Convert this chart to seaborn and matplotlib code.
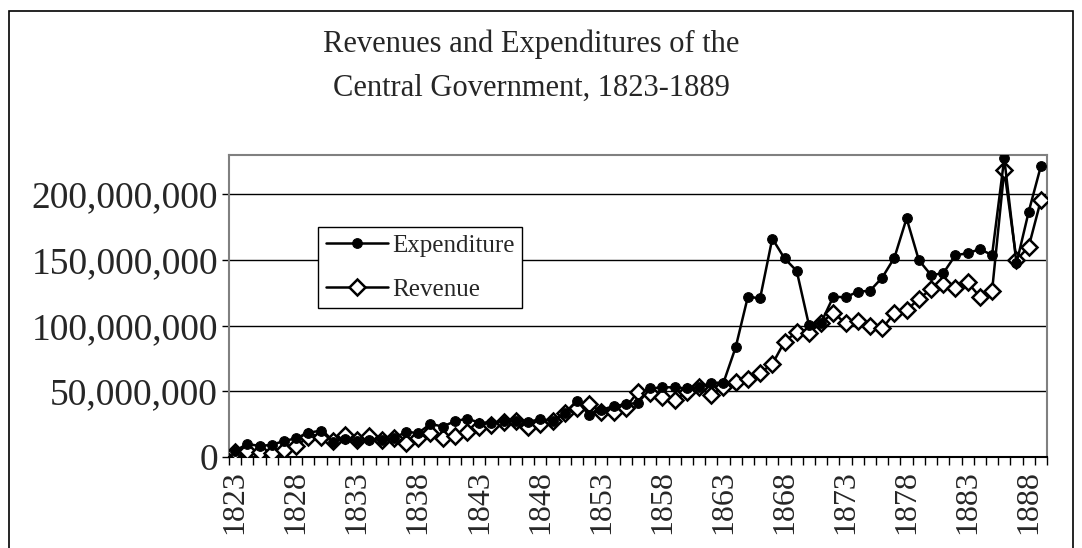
import numpy as np
import pandas as pd
import matplotlib
matplotlib.use("Agg")
import matplotlib.pyplot as plt
from matplotlib.patches import Rectangle
from matplotlib.ticker import FuncFormatter, FixedLocator
import seaborn as sns

years = list(range(1823, 1890))

expenditure = [
    4.5, 9.7, 8.2, 9.0, 12.0, 14.0, 18.3, 19.8, 11.4, 13.5,
    12.0, 13.0, 13.0, 14.0, 19.0, 18.0, 25.0, 23.0, 27.0, 29.0,
    26.0, 26.0, 27.0, 27.5, 26.7, 28.5, 27.5, 33.0, 42.7, 31.8,
    35.6, 38.6, 40.0, 41.0, 52.0, 52.9, 52.9, 52.0, 52.9, 56.4,
    56.4, 83.4, 122.0, 120.7, 166.3, 151.2, 141.6, 100.4, 102.2, 122.0,
    121.5, 125.8, 126.5, 136.5, 151.7, 181.7, 149.9, 138.5, 139.8, 153.7,
    155.0, 158.3, 153.7, 227.4, 147.4, 186.7, 221.6,
]
revenue = [
    3.4, 4.0, 3.8, 2.8, 5.0, 8.2, 15.0, 15.0, 12.0, 16.5,
    12.5, 15.5, 13.0, 14.0, 10.3, 14.0, 18.0, 14.0, 16.0, 19.0,
    23.0, 24.0, 26.5, 27.5, 22.4, 25.0, 27.5, 33.0, 36.9, 40.0,
    34.3, 34.3, 37.5, 49.5, 48.3, 45.3, 43.2, 49.5, 52.9, 47.0,
    53.4, 57.2, 59.0, 64.0, 70.5, 87.7, 95.0, 94.5, 102.0, 109.8,
    101.6, 103.7, 99.6, 97.8, 109.3, 111.8, 120.2, 127.8, 131.4, 128.8,
    132.9, 122.0, 126.3, 218.5, 150.0, 160.0, 195.6,
]

df = pd.DataFrame({
    "idx": np.arange(len(years)),
    "Year": years,
    "Expenditure": np.array(expenditure) * 1e6,
    "Revenue": np.array(revenue) * 1e6,
})

sns.set_style("white")
plt.rcParams["font.family"] = ["Liberation Serif", "DejaVu Serif"]

W, H = 1082, 548
fig = plt.figure(figsize=(W / 100, H / 100), dpi=100)
ax = fig.add_axes([229 / W, 1 - 456.7 / H, (1047 - 229) / W, (456.7 - 155) / H])

# revenue first so the filled circles sit on top of the open diamonds
sns.lineplot(data=df, x="idx", y="Revenue", ax=ax, color="black", lw=1.8,
             marker="D", markersize=8, markerfacecolor="white",
             markeredgecolor="black", markeredgewidth=1.8, label="Revenue", zorder=3)
sns.lineplot(data=df, x="idx", y="Expenditure", ax=ax, color="black", lw=1.8,
             marker="o", markersize=7, markerfacecolor="black",
             markeredgecolor="black", label="Expenditure", zorder=4)

ax.set_xlim(-0.5, len(years) - 0.5)
ax.set_ylim(0, 230e6)
ax.set_xlabel("")
ax.set_ylabel("")

ax.set_yticks(np.arange(0, 200e6 + 1, 50e6))
ax.yaxis.set_major_formatter(FuncFormatter(lambda v, p: f"{int(v):,}"))
ax.yaxis.grid(True, color="black", lw=1)
ax.xaxis.grid(False)

major = list(range(0, len(years), 5))
ax.set_xticks(major)
ax.set_xticklabels([str(years[i]) for i in major], rotation=90)
ax.xaxis.set_minor_locator(FixedLocator(np.arange(-0.5, len(years), 1.0)))

ax.tick_params(axis="y", which="major", direction="out", length=5, width=1,
               color="black", labelsize=27, pad=3, left=True)
ax.tick_params(axis="x", which="major", length=0, labelsize=23, pad=10)
ax.tick_params(axis="x", which="minor", direction="out", length=6, width=1,
               color="black", bottom=True)

for side in ["top", "right", "left"]:
    ax.spines[side].set_color("#808080")
    ax.spines[side].set_linewidth(1.5)
ax.spines["bottom"].set_color("black")
ax.spines["bottom"].set_linewidth(1.5)

handles, labels = ax.get_legend_handles_labels()
order = [labels.index("Expenditure"), labels.index("Revenue")]
leg = ax.legend([handles[i] for i in order], [labels[i] for i in order],
                loc="upper left", bbox_to_anchor=(318 / W, 1 - 227 / H),
                bbox_transform=fig.transFigure, fontsize=18, frameon=True,
                fancybox=False, edgecolor="black", framealpha=1,
                handlelength=2.5, handletextpad=0.15, borderpad=0.3,
                labelspacing=0.85, borderaxespad=0)
leg.get_frame().set_linewidth(1)

fig.text(531 / W, 1 - 66 / H,
         "Revenues and Expenditures of the\nCentral Government, 1823-1889",
         ha="center", va="center", fontsize=22, linespacing=1.7)

fig.add_artist(Rectangle((9 / W, -0.1), (1073 - 9) / W, 1.1 - 11 / H,
                         transform=fig.transFigure, fill=False,
                         edgecolor="black", lw=1.2))

fig.savefig("out.png", dpi=100)
